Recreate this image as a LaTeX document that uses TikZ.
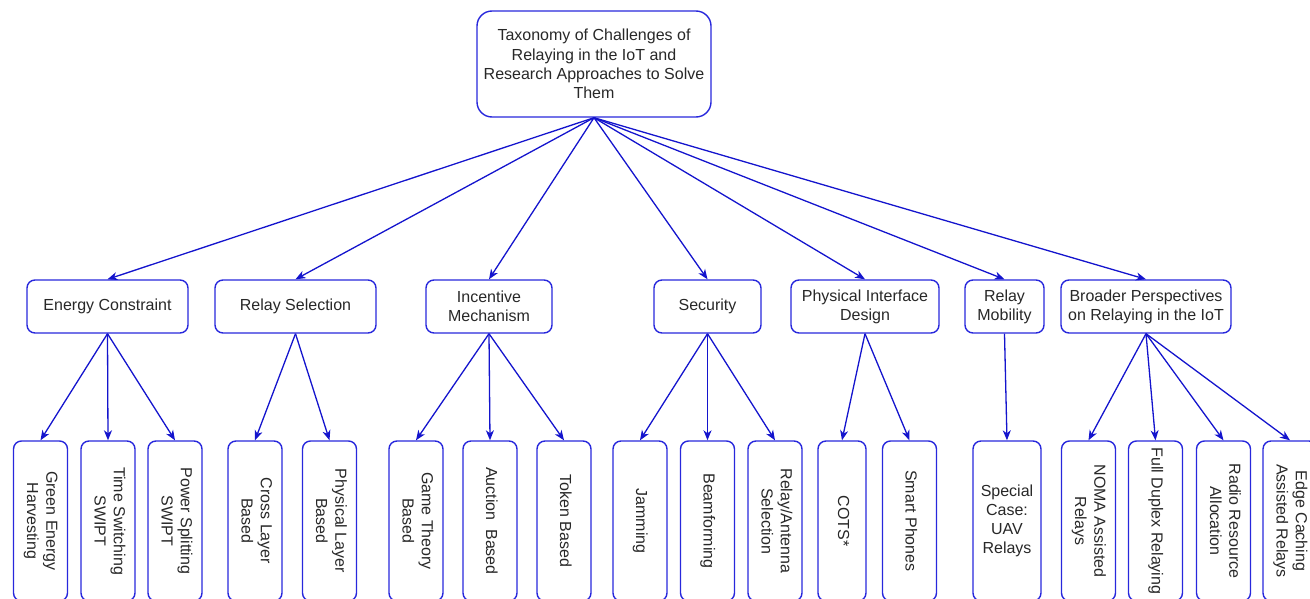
\documentclass[tikz,border=0pt]{standalone}
\usepackage{fontspec}
\setmainfont{Liberation Sans}
\usetikzlibrary{arrows.meta}
\definecolor{boxblue}{RGB}{40,40,220}
\definecolor{edgeblue}{RGB}{20,20,205}
\definecolor{txt}{RGB}{40,40,40}
\tikzset{
  basebox/.style={draw=boxblue, line width=1.4pt, fill=white, text=txt, inner sep=0pt, align=center,
    font=\fontsize{16}{19.2}\selectfont},
  rootbox/.style={basebox, rounded corners=15pt, minimum width=234pt, minimum height=106pt},
  midbox/.style={basebox, rounded corners=8pt, minimum height=53pt},
  leafbox/.style={basebox, rounded corners=8pt, minimum width=54pt, minimum height=160pt},
  conn/.style={draw=edgeblue, line width=1.3pt, -{Stealth[length=10pt,width=8pt,inset=3pt]}},
}
\newcommand{\rt}[1]{\rotatebox[origin=c]{-90}{\begin{tabular}{@{}c@{}}#1\end{tabular}}}
\begin{document}
\begin{tikzpicture}[x=1pt,y=-1pt]
\useasboundingbox (0,0) rectangle (1310,599);
\clip (0,0) rectangle (1310,599);
% root
\node[rootbox] (root) at (594,64) {Taxonomy of Challenges of\\Relaying in the IoT and\\Research Approaches to Solve\\Them};
% level 2
\node[midbox, minimum width=161pt] (ec) at (107.5,306.5) {Energy Constraint};
\node[midbox, minimum width=161pt] (rs) at (295.5,306.5) {Relay Selection};
\node[midbox, minimum width=126pt] (im) at (489,306.5) {Incentive\\Mechanism};
\node[midbox, minimum width=107pt] (se) at (707.5,306.5) {Security};
\node[midbox, minimum width=148pt] (pi) at (865,306.5) {Physical Interface\\Design};
\node[midbox, minimum width=79pt] (rm) at (1004.5,306.5) {Relay\\Mobility};
\node[midbox, minimum width=170pt] (bp) at (1146,306.5) {Broader Perspectives\\on Relaying in the IoT};
% leaves
\node[leafbox] (ge) at (40.5,521) {\rt{Green Energy\\Harvesting}};
\node[leafbox] (ts) at (108,521) {\rt{Time Switching\\SWIPT}};
\node[leafbox] (ps) at (175,521) {\rt{Power Splitting\\SWIPT}};
\node[leafbox] (cl) at (255,521) {\rt{Cross Layer\\Based}};
\node[leafbox] (pl) at (329.5,521) {\rt{Physical Layer\\Based}};
\node[leafbox] (gt) at (416,521) {\rt{Game Theory\\Based}};
\node[leafbox] (ab) at (490,521) {\rt{Auction\ \ Based}};
\node[leafbox] (tb) at (564,521) {\rt{Token Based}};
\node[leafbox] (jm) at (640,521) {\rt{Jamming}};
\node[leafbox] (bf) at (707.5,521) {\rt{Beamforming}};
\node[leafbox] (ra) at (775,521) {\rt{Relay/Antenna\\Selection}};
\node[leafbox, minimum width=48pt] (co) at (842,521) {\rt{COTS*}};
\node[leafbox] (sp) at (909.5,521) {\rt{Smart Phones}};
\node[leafbox, minimum width=68pt] (uav) at (1007,521) {Special\\Case:\\UAV\\Relays};
\node[leafbox] (no) at (1088.5,521) {\rt{NOMA Assisted\\Relays}};
\node[leafbox] (fd) at (1155.5,521) {\rt{Full Duplex Relaying}};
\node[leafbox] (rr) at (1223.5,521) {\rt{Radio Resource\\Allocation}};
\node[leafbox] (eg) at (1290,521) {\rt{Edge Caching\\Assisted Relays}};
% connectors root -> level 2
\foreach \t in {ec,rs,im,se,pi,rm,bp} \draw[conn] (root.south) -- (\t.north);
% level 2 -> leaves
\foreach \t in {ge,ts,ps} \draw[conn] (ec.south) -- (\t.north);
\foreach \t in {cl,pl} \draw[conn] (rs.south) -- (\t.north);
\foreach \t in {gt,ab,tb} \draw[conn] (im.south) -- (\t.north);
\foreach \t in {jm,bf,ra} \draw[conn] (se.south) -- (\t.north);
\foreach \t in {co,sp} \draw[conn] (pi.south) -- (\t.north);
\draw[conn] (rm.south) -- (uav.north);
\foreach \t in {no,fd,rr,eg} \draw[conn] (bp.south) -- (\t.north);
\end{tikzpicture}
\end{document}
